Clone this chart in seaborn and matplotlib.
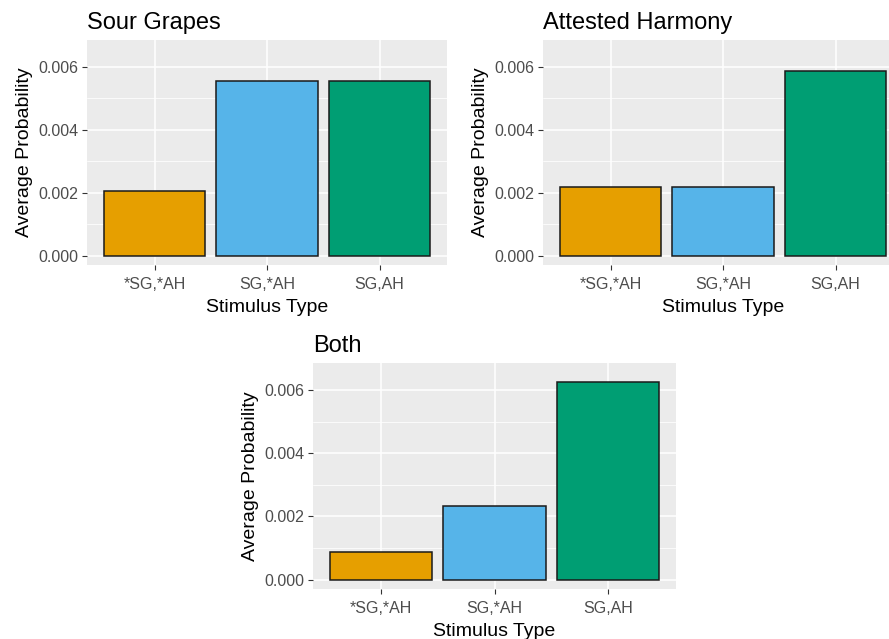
import numpy as np
import pandas as pd
import matplotlib
matplotlib.use("Agg")
import matplotlib.pyplot as plt
from matplotlib.ticker import MultipleLocator, FormatStrFormatter
import seaborn as sns

####
#   Data
####
stimulus = ["*SG,*AH", "SG,*AH", "SG,AH"]
sour_grapes = [0.00204, 0.00557, 0.00557]
attested_harmony = [0.00217, 0.00217, 0.00586]
both = [0.00087, 0.00232, 0.00626]
panel_titles = ["Sour Grapes", "Attested Harmony", "Both"]
bar_colors = ["#E69F00", "#56B4E9", "#009E73"]

sns.set_theme(style="darkgrid", rc={
    "axes.facecolor": "#EBEBEB",
    "grid.color": "white",
    "axes.edgecolor": "#EBEBEB",
})
plt.rcParams["font.family"] = ["Liberation Sans", "DejaVu Sans"]

fig = plt.figure(figsize=(8.89, 6.39), dpi=100)

W, H = 889.0, 639.0
# panel boxes in pixels (left, right, top, bottom); the right panel runs past the image edge
boxes = [
    (87, 447, 40, 265),
    (543, 903, 40, 265),
    (313, 676, 363, 589),
]

for vals, title, (x0, x1, y0, y1) in zip([sour_grapes, attested_harmony, both], panel_titles, boxes):
    ax = fig.add_axes([x0 / W, 1 - y1 / H, (x1 - x0) / W, (y1 - y0) / H])
    df = pd.DataFrame({"Stimulus Type": stimulus, "Average Probability": vals})
    sns.barplot(data=df, x="Stimulus Type", y="Average Probability", hue="Stimulus Type",
                palette=bar_colors, legend=False, width=0.9, saturation=1,
                edgecolor="#1a1a1a", linewidth=1.1, ax=ax)

    ax.set_xlim(-0.6, 2.6)
    ax.set_ylim(-0.0003, 0.00686)
    ax.yaxis.set_major_locator(MultipleLocator(0.002))
    ax.yaxis.set_minor_locator(MultipleLocator(0.001))
    ax.yaxis.set_major_formatter(FormatStrFormatter("%.3f"))
    ax.grid(which="major", color="white", linewidth=1.1)
    ax.grid(which="minor", axis="y", color="white", linewidth=0.55)
    ax.set_axisbelow(True)
    for s in ax.spines.values():
        s.set_visible(False)

    ax.tick_params(axis="both", which="major", length=3.5, width=0.8, color="#333333",
                   labelsize=11.5, labelcolor="#4D4D4D", pad=2.5)
    ax.tick_params(axis="x", pad=5)
    ax.tick_params(axis="y", which="minor", length=0)
    ax.tick_params(axis="both", bottom=True, left=True)

    ax.set_xlabel("Stimulus Type", fontsize=14, color="black", labelpad=5)
    ax.set_ylabel("Average Probability", fontsize=14, color="black", labelpad=4)
    ax.set_title(title, loc="left", fontsize=17, color="black", pad=8)

fig.savefig("out.png", dpi=100)
